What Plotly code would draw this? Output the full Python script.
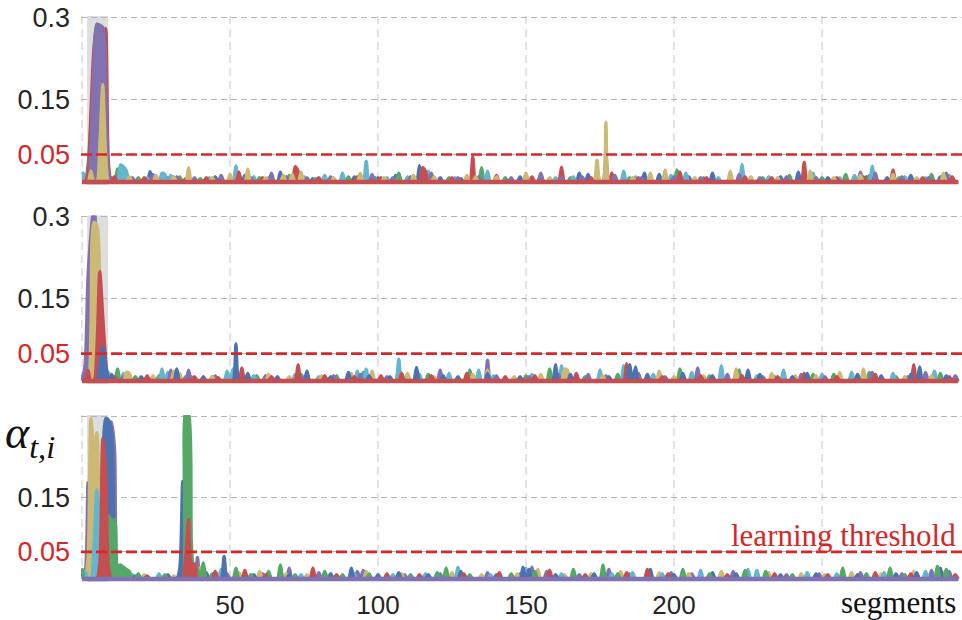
import plotly.graph_objects as go

# ---------------- data (segment, alpha) ----------------
N_SEG = 297
SEGMENTS = list(range(N_SEG))

COLORS = {"blue": "#4C72B0", "green": "#55A868", "red": "#C44E52",
          "purple": "#8172B2", "yellow": "#CCB974", "cyan": "#64B5CD"}

# panel 1
P1_BLUE = [(6, 0.025), (10, 0.008), (23, 0.019), (29, 0.008), (45, 0.010), (55, 0.012), (67, 0.018), (78, 0.006),
           (92, 0.010), (100, 0.008), (106, 0.012), (114, 0.030), (121, 0.008), (128, 0.006), (135, 0.010),
           (148, 0.010), (155, 0.012), (168, 0.016), (171, 0.014), (177, 0.048), (183, 0.008), (190, 0.016),
           (195, 0.014), (205, 0.010), (213, 0.016), (222, 0.008), (236, 0.010), (242, 0.018), (252, 0.008),
           (265, 0.010), (272, 0.008), (280, 0.012), (290, 0.010)]
P1_GREEN = [(2, 0.030), (3, 0.100), (12, 0.024), (19, 0.008), (33, 0.010), (40, 0.006), (52, 0.010), (60, 0.008),
            (70, 0.012), (79, 0.006), (90, 0.010), (99, 0.008), (107, 0.016), (116, 0.010), (124, 0.008),
            (135, 0.026), (143, 0.008), (155, 0.014), (165, 0.008), (174, 0.010), (185, 0.008), (201, 0.022),
            (210, 0.008), (219, 0.010), (230, 0.008), (239, 0.012), (250, 0.008), (258, 0.014), (266, 0.012),
            (276, 0.008), (287, 0.014)]
P1_CYAN = [(0, 0.018), (1, 0.012), (9, 0.014), (13, 0.031), (14, 0.028), (15, 0.020), (22, 0.008), (27, 0.016),
           (28, 0.014), (30, 0.012), (43, 0.008), (52, 0.030), (58, 0.010), (63, 0.008), (75, 0.010), (82, 0.012),
           (88, 0.016), (96, 0.038), (103, 0.008), (110, 0.010), (117, 0.020), (126, 0.008), (137, 0.020),
           (150, 0.014), (160, 0.008), (166, 0.010), (183, 0.020), (187, 0.010), (199, 0.012), (204, 0.016),
           (215, 0.008), (223, 0.032), (232, 0.010), (247, 0.016), (256, 0.008), (261, 0.012), (267, 0.029),
           (278, 0.010), (285, 0.008), (293, 0.012)]
P1_RED = [(2, 0.020), (3, 0.130), (4, 0.245), (5, 0.288), (6, 0.255), (7, 0.240), (8, 0.280), (9, 0.030),
          (11, 0.010), (21, 0.008), (35, 0.006), (42, 0.008), (53, 0.018), (61, 0.008), (72, 0.028), (73, 0.020),
          (80, 0.008), (93, 0.010), (101, 0.008), (115, 0.026), (116, 0.020), (125, 0.008), (132, 0.046),
          (140, 0.012), (152, 0.010), (162, 0.027), (172, 0.008), (179, 0.016), (188, 0.008), (202, 0.018),
          (211, 0.008), (224, 0.010), (233, 0.008), (244, 0.036), (255, 0.008), (264, 0.010), (274, 0.022),
          (284, 0.008), (294, 0.010)]
P1_PURPLE = [(3, 0.060), (4, 0.210), (5, 0.287), (6, 0.286), (7, 0.282), (8, 0.160), (9, 0.015), (17, 0.008),
             (24, 0.014), (32, 0.010), (38, 0.008), (47, 0.012), (57, 0.008), (64, 0.016), (69, 0.010), (76, 0.008),
             (84, 0.010), (98, 0.014), (105, 0.008), (111, 0.010), (118, 0.016), (127, 0.008), (134, 0.010),
             (145, 0.008), (155, 0.016), (162, 0.008), (169, 0.010), (174, 0.022), (180, 0.012), (189, 0.008),
             (200, 0.010), (209, 0.008), (222, 0.014), (229, 0.008), (238, 0.010), (248, 0.008), (263, 0.018),
             (268, 0.016), (277, 0.010), (286, 0.008), (292, 0.016)]
P1_YELLOW = [(3, 0.020), (6, 0.070), (7, 0.178), (8, 0.050), (16, 0.010), (25, 0.012), (31, 0.010), (36, 0.026),
             (44, 0.008), (50, 0.014), (56, 0.024), (62, 0.008), (68, 0.012), (71, 0.014), (74, 0.018), (85, 0.008),
             (94, 0.016), (102, 0.008), (112, 0.012), (119, 0.010), (130, 0.012), (133, 0.010), (140, 0.010),
             (150, 0.016), (158, 0.008), (174, 0.040), (177, 0.109), (186, 0.008), (192, 0.016), (197, 0.022),
             (207, 0.008), (219, 0.020), (226, 0.010), (235, 0.008), (246, 0.020), (254, 0.008), (263, 0.012),
             (274, 0.014), (282, 0.008), (291, 0.016)]

# panel 2
P2_GREEN = [(6, 0.015), (12, 0.022), (18, 0.008), (26, 0.010), (35, 0.008), (44, 0.008), (59, 0.010), (74, 0.012),
            (86, 0.010), (95, 0.016), (107, 0.026), (117, 0.012), (131, 0.020), (139, 0.008), (150, 0.010),
            (158, 0.022), (170, 0.008), (181, 0.012), (193, 0.010), (202, 0.022), (212, 0.010), (222, 0.020),
            (234, 0.008), (247, 0.012), (254, 0.012), (266, 0.016), (275, 0.008), (290, 0.014)]
P2_CYAN = [(0, 0.012), (8, 0.020), (9, 0.015), (14, 0.014), (27, 0.022), (29, 0.016), (37, 0.008), (49, 0.018),
           (51, 0.022), (58, 0.010), (72, 0.012), (80, 0.008), (93, 0.018), (96, 0.022), (107, 0.040), (114, 0.012),
           (124, 0.014), (134, 0.020), (139, 0.010), (152, 0.012), (162, 0.028), (175, 0.020), (183, 0.028),
           (193, 0.012), (206, 0.016), (216, 0.028), (228, 0.010), (237, 0.020), (250, 0.012), (260, 0.016),
           (274, 0.014), (288, 0.018)]
P2_PURPLE = [(1, 0.030), (2, 0.190), (3, 0.270), (4, 0.320), (5, 0.240), (6, 0.030), (14, 0.008), (30, 0.020),
             (36, 0.020), (45, 0.010), (55, 0.008), (62, 0.010), (75, 0.008), (85, 0.010), (94, 0.012), (103, 0.008),
             (121, 0.020), (137, 0.038), (140, 0.010), (151, 0.008), (161, 0.012), (171, 0.012), (177, 0.010),
             (188, 0.014), (197, 0.008), (208, 0.024), (218, 0.012), (230, 0.008), (243, 0.012), (251, 0.008),
             (267, 0.016), (279, 0.008), (285, 0.016), (295, 0.010)]
P2_YELLOW = [(3, 0.100), (4, 0.290), (5, 0.285), (6, 0.190), (7, 0.020), (15, 0.016), (16, 0.014), (24, 0.010),
             (31, 0.018), (33, 0.014), (44, 0.008), (53, 0.010), (63, 0.012), (70, 0.008), (81, 0.010),
             (91, 0.014), (98, 0.018), (110, 0.014), (119, 0.008), (132, 0.012), (137, 0.020), (146, 0.008),
             (155, 0.012), (163, 0.022), (164, 0.020), (176, 0.010), (186, 0.012), (195, 0.018), (200, 0.008),
             (210, 0.010), (221, 0.022), (233, 0.014), (241, 0.010), (248, 0.010), (256, 0.016), (264, 0.022),
             (278, 0.008), (287, 0.010)]
P2_RED = [(2, 0.020), (5, 0.060), (6, 0.200), (7, 0.120), (8, 0.040), (11, 0.008), (22, 0.010), (38, 0.008),
          (46, 0.006), (54, 0.024), (64, 0.008), (73, 0.030), (82, 0.010), (92, 0.008), (101, 0.010), (108, 0.014),
          (118, 0.010), (130, 0.014), (143, 0.008), (153, 0.010), (167, 0.014), (184, 0.032), (196, 0.008),
          (209, 0.010), (223, 0.010), (235, 0.008), (244, 0.014), (255, 0.008), (268, 0.012), (281, 0.030),
          (293, 0.008)]
P2_BLUE = [(6, 0.030), (7, 0.062), (8, 0.030), (10, 0.012), (20, 0.008), (32, 0.022), (41, 0.008), (52, 0.068),
           (56, 0.014), (66, 0.008), (76, 0.018), (84, 0.008), (90, 0.016), (97, 0.010), (104, 0.008), (113, 0.025),
           (122, 0.010), (127, 0.008), (137, 0.014), (148, 0.008), (160, 0.030), (165, 0.012), (178, 0.008),
           (185, 0.030), (187, 0.026), (191, 0.012), (203, 0.014), (213, 0.010), (225, 0.020), (229, 0.012),
           (240, 0.008), (245, 0.014), (262, 0.012), (270, 0.010), (280, 0.012), (283, 0.026), (292, 0.010)]

# panel 3
P3_PURPLE = [(1, 0.010), (2, 0.178), (3, 0.040), (10, 0.290), (11, 0.240), (12, 0.010), (16, 0.006), (39, 0.040),
             (42, 0.012), (49, 0.010), (61, 0.010), (70, 0.020), (80, 0.012), (93, 0.014), (95, 0.016), (109, 0.008),
             (121, 0.010), (137, 0.012), (148, 0.010), (152, 0.022), (157, 0.014), (168, 0.008), (178, 0.018),
             (185, 0.010), (199, 0.012), (206, 0.010), (220, 0.014), (238, 0.008), (249, 0.010), (263, 0.012),
             (277, 0.010), (287, 0.016), (293, 0.014)]
P3_YELLOW = [(0, 0.014), (2, 0.040), (3, 0.296), (4, 0.240), (5, 0.270), (6, 0.080), (7, 0.020), (21, 0.008),
             (31, 0.006), (40, 0.022), (46, 0.010), (53, 0.012), (60, 0.014), (69, 0.010), (76, 0.008), (84, 0.010),
             (96, 0.014), (108, 0.010), (125, 0.012), (135, 0.008), (147, 0.010), (154, 0.018), (163, 0.008),
             (172, 0.010), (182, 0.014), (195, 0.012), (205, 0.010), (216, 0.014), (232, 0.012), (243, 0.010),
             (251, 0.008), (260, 0.012), (270, 0.010), (281, 0.014), (291, 0.012)]
P3_CYAN = [(1, 0.014), (4, 0.060), (5, 0.165), (6, 0.100), (7, 0.020), (17, 0.008), (26, 0.010), (33, 0.012),
           (47, 0.018), (63, 0.012), (74, 0.008), (92, 0.010), (105, 0.008), (116, 0.010), (127, 0.022),
           (138, 0.008), (150, 0.020), (162, 0.010), (179, 0.010), (186, 0.012), (196, 0.010), (209, 0.016),
           (225, 0.018), (228, 0.016), (245, 0.012), (255, 0.010), (271, 0.012), (285, 0.014)]
P3_BLUE = [(0, 0.010), (7, 0.020), (8, 0.296), (9, 0.293), (10, 0.270), (11, 0.040), (18, 0.006), (29, 0.008),
           (33, 0.020), (34, 0.180), (35, 0.030), (42, 0.010), (48, 0.042), (58, 0.008), (70, 0.008), (84, 0.010),
           (91, 0.020), (100, 0.008), (107, 0.012), (117, 0.008), (128, 0.014), (140, 0.008), (149, 0.022),
           (151, 0.018), (160, 0.008), (173, 0.010), (192, 0.018), (200, 0.008), (213, 0.012), (221, 0.010),
           (236, 0.008), (248, 0.010), (262, 0.008), (275, 0.010), (282, 0.012), (290, 0.020)]
P3_GREEN = [(0, 0.020), (8, 0.040), (9, 0.117), (10, 0.105), (11, 0.110), (12, 0.024), (13, 0.026), (14, 0.022),
            (15, 0.018), (16, 0.014), (19, 0.010), (28, 0.008), (35, 0.310), (36, 0.305), (37, 0.060), (39, 0.020),
            (41, 0.030), (44, 0.010), (52, 0.020), (57, 0.008), (63, 0.014), (67, 0.026), (72, 0.008), (82, 0.014),
            (88, 0.008), (97, 0.010), (111, 0.008), (120, 0.012), (123, 0.020), (131, 0.008), (145, 0.010),
            (153, 0.014), (166, 0.018), (176, 0.026), (181, 0.010), (203, 0.018), (212, 0.010), (224, 0.016),
            (231, 0.014), (240, 0.008), (257, 0.020), (265, 0.010), (273, 0.020), (278, 0.008), (289, 0.024),
            (292, 0.018)]
P3_RED = [(6, 0.030), (7, 0.260), (8, 0.200), (9, 0.020), (22, 0.006), (35, 0.040), (36, 0.110), (37, 0.028),
          (38, 0.028), (45, 0.014), (55, 0.016), (62, 0.008), (78, 0.020), (86, 0.008), (103, 0.010), (114, 0.008),
          (129, 0.010), (141, 0.012), (158, 0.016), (170, 0.008), (184, 0.012), (191, 0.018), (198, 0.010),
          (218, 0.008), (234, 0.010), (252, 0.008), (268, 0.012), (280, 0.010), (295, 0.008)]

PANELS = [
    [("blue", P1_BLUE), ("green", P1_GREEN), ("cyan", P1_CYAN), ("red", P1_RED), ("purple", P1_PURPLE),
     ("yellow", P1_YELLOW)],
    [("green", P2_GREEN), ("cyan", P2_CYAN), ("purple", P2_PURPLE), ("yellow", P2_YELLOW), ("red", P2_RED),
     ("blue", P2_BLUE)],
    [("purple", P3_PURPLE), ("yellow", P3_YELLOW), ("cyan", P3_CYAN), ("blue", P3_BLUE), ("green", P3_GREEN),
     ("red", P3_RED)],
]
BASE_COLOR = ["red", "red", "purple"]

THRESHOLD = 0.05
Y_TICKS = [0.05, 0.15, 0.3]
X_TICKS = [0, 50, 100, 150, 200, 250]
X_TICK_TEXT = ["", "50", "100", "150", "200", ""]
SHADE = (1.7, 8.8)

# ---------------- figure ----------------
W, H = 962, 620
ML, MR, MT, MB = 81, 0, 16, 38
PH = H - MT - MB
TOP_PX = [16, 215.5, 415]
BOT_PX = [185, 384, 582]


def py(px):
    return (H - MB - px) / PH


def dense(pairs):
    vals = [0.0] * N_SEG
    for s, v in pairs:
        vals[s] = v
    return vals


RED = "#d62728"
Y_TICK_FONT = dict(family="Liberation Sans, Arial", size=27, color="#262626")
X_TICK_FONT = dict(family="Liberation Sans, Arial", size=26, color="#262626")
fig = go.Figure()
layout = dict(width=W, height=H, margin=dict(l=ML, r=MR, t=MT, b=MB, autoexpand=False),
              plot_bgcolor="white", paper_bgcolor="white", showlegend=False)
shapes = []
for k in range(3):
    ax = "" if k == 0 else str(k + 1)
    xa, ya = "x" + ax, "y" + ax
    for cname, pairs in PANELS[k]:
        c = COLORS[cname]
        fig.add_trace(go.Scatter(x=SEGMENTS, y=dense(pairs), mode="lines", xaxis=xa, yaxis=ya,
                                 line=dict(color=c, width=3.2, shape="spline", smoothing=0.8),
                                 fill="tozeroy", fillcolor=c, hoverinfo="skip"))
    fig.add_trace(go.Scatter(x=SEGMENTS, y=[0.0] * N_SEG, mode="lines", xaxis=xa, yaxis=ya,
                             line=dict(color=COLORS[BASE_COLOR[k]], width=4.5), hoverinfo="skip"))
    dom = [py(BOT_PX[k]), py(TOP_PX[k])]
    red05 = "<span style='color:%s'>0.05</span>" % RED
    tt = [red05, "0.15", "0.3"] if k < 2 else [red05, "0.15", ""]
    layout["xaxis" + ax] = dict(domain=[0, 1], range=[-0.35, 297.3], anchor=ya, automargin=False,
                                tickvals=X_TICKS, ticktext=X_TICK_TEXT, showticklabels=(k == 2),
                                showgrid=True, gridcolor="#e3e3e3", griddash="8px,5px", gridwidth=1.5,
                                zeroline=False, showline=False, ticks="",
                                tickfont=X_TICK_FONT, ticklabelstandoff=5)
    layout["yaxis" + ax] = dict(domain=dom, range=[-0.0055, 0.3025], anchor=xa, automargin=False,
                                tickvals=Y_TICKS, ticktext=tt, showgrid=True, gridcolor="#b5b5b5",
                                griddash="6px,4px", gridwidth=1.3, zeroline=False, showline=False,
                                ticks="", ticklabelstandoff=10, tickfont=Y_TICK_FONT)
    shapes.append(dict(type="rect", xref=xa, yref=ya + " domain", x0=SHADE[0], x1=SHADE[1], y0=0, y1=1,
                       fillcolor="#dedede", line=dict(width=0), layer="below"))
    shapes.append(dict(type="line", xref=xa + " domain", yref=ya, x0=0, x1=1, y0=THRESHOLD, y1=THRESHOLD,
                       line=dict(color=RED, width=2.6, dash="11px,4px"), layer="above"))

layout["shapes"] = shapes
layout["annotations"] = [
    dict(text="learning threshold", xref="paper", yref="paper", x=(958 - ML) / (W - ML - MR), y=py(535),
         xanchor="right", yanchor="middle", showarrow=False,
         font=dict(family="Liberation Serif, DejaVu Serif", size=31, color=RED)),
    dict(text="segments", xref="paper", yref="paper", x=(958 - ML) / (W - ML - MR), y=py(602),
         xanchor="right", yanchor="middle", showarrow=False,
         font=dict(family="Liberation Serif, DejaVu Serif", size=31, color="#111111")),
    dict(text="<i>α<sub>t,i</sub></i>", xref="paper", yref="paper", x=(3 - ML) / (W - ML - MR), y=py(436),
         xanchor="left", yanchor="middle", showarrow=False,
         font=dict(family="Liberation Serif, DejaVu Serif", size=46, color="#111111")),
]
fig.update_layout(**layout)
fig.write_html("out.html")
